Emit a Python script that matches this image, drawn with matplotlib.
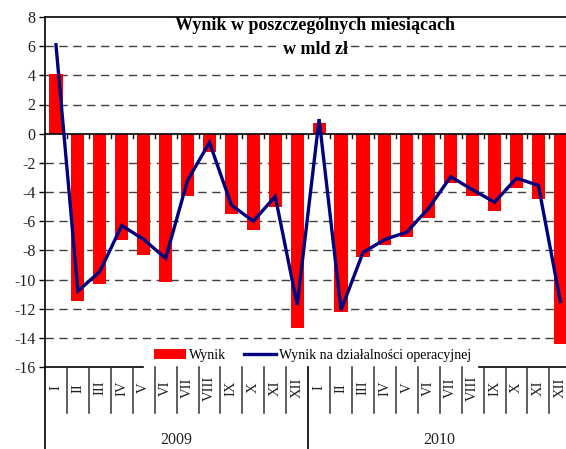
import matplotlib
matplotlib.use("Agg")
import matplotlib.pyplot as plt
import matplotlib.transforms as mtransforms
from matplotlib.patches import Patch
from matplotlib.lines import Line2D
import numpy as np

# months of 2009 and 2010
months = ["I", "II", "III", "IV", "V", "VI", "VII", "VIII", "IX", "X", "XI", "XII"]
years = ["2009", "2010"]

# Wynik (bars), mld zl
wynik_2009 = [4.1, -11.5, -10.3, -7.3, -8.3, -10.15, -4.25, -1.25, -5.5, -6.6, -5.05, -13.35]
wynik_2010 = [0.7, -12.2, -8.45, -7.6, -7.1, -5.8, -3.4, -4.25, -5.3, -3.7, -4.5, -14.4]

# Wynik na dzialalnosci operacyjnej (line), mld zl
oper_2009 = [6.1, -10.8, -9.45, -6.3, -7.25, -8.55, -3.2, -0.6, -4.9, -6.0, -4.3, -11.75]
oper_2010 = [1.0, -12.1, -8.15, -7.25, -6.75, -5.1, -2.95, -3.85, -4.7, -3.05, -3.55, -11.5]

wynik = wynik_2009 + wynik_2010
oper = oper_2009 + oper_2010
labels = months * len(years)
x = np.arange(len(wynik))

plt.rcParams['font.family'] = ['Liberation Serif', 'DejaVu Serif']
plt.rcParams['axes.unicode_minus'] = False

fig = plt.figure(figsize=(5.66, 4.49), dpi=100)
ax = fig.add_axes([45/566, 82/449, 526.3/566, 350/449])

ax.bar(x, wynik, width=0.6, color='#ff0000', zorder=2)
ax.plot(x, oper, color='#000080', lw=2.4, zorder=3, solid_joinstyle='miter')

ax.set_xlim(-0.5, len(x) - 0.5)
ax.set_ylim(-16, 8)
ax.set_yticks(np.arange(-16, 9, 2))
ax.tick_params(axis='y', direction='out', length=4, width=1, labelsize=11.5,
               labelcolor='#222222', pad=3)
ax.set_xticks([])

# dashed gridlines
for v in np.arange(-14, 7, 2):
    if v == 0:
        continue
    ax.axhline(v, color='#404040', lw=1, ls=(0, (6, 4)), zorder=1)
ax.axhline(0, color='black', lw=1.2, zorder=2.5)

for s in ['right', 'bottom']:
    ax.spines[s].set_visible(False)
ax.spines['top'].set_linewidth(1.2)
ax.spines['left'].set_linewidth(1.2)

trans = mtransforms.blended_transform_factory(ax.transData, ax.transAxes)
bounds = np.arange(len(x) + 1) - 0.5

# small ticks on the zero line
for b in bounds[1:-1]:
    ax.plot([b, b], [0, -0.3], color='black', lw=1, zorder=2.5)

# bottom axis line, broken by the legend
ax.plot([-0.5, 3.97], [0, 0], transform=trans, color='black', lw=1.2, clip_on=False)
ax.plot([19.27, len(x) - 0.5], [0, 0], transform=trans, color='black', lw=1.2, clip_on=False)

# category separators below the axis
for i, b in enumerate(bounds):
    if i % 12 == 0:
        ax.plot([b, b], [0, -0.24], transform=trans, color='black', lw=1.2, clip_on=False)
    else:
        ax.plot([b, b], [0, -0.131], transform=trans, color='#333333', lw=1.1, clip_on=False)

# month labels
for xi, lab in zip(x, labels):
    ax.text(xi, -21/350, lab, transform=trans, rotation=90, ha='center', va='center',
            fontsize=10.5, color='#222222')

# year labels
for j, yr in enumerate(years):
    ax.text(j * 12 + 5.5, -73/350, yr, transform=trans, ha='center', va='center',
            fontsize=11.5, color='#222222')

# title (white background hides the gridline under the second line)
ax.text(11.82, 1 - 8/350, "Wynik w poszczególnych miesiącach", transform=trans,
        ha='center', va='center', fontsize=13, fontweight='bold', zorder=4)
ax.text(11.82, 1 - 33/350, "w mld zł", transform=trans,
        ha='center', va='center', fontsize=13, fontweight='bold', zorder=4,
        bbox=dict(facecolor='white', edgecolor='none', pad=1))

handles = [Patch(facecolor='#ff0000', edgecolor='none'),
           Line2D([], [], color='#000080', lw=2.4)]
ax.legend(handles, ["Wynik", "Wynik na działalności operacyjnej"],
          loc='center left', bbox_to_anchor=(109/526.3, 12/350), frameon=False,
          ncol=2, fontsize=10, handlelength=2.3, handletextpad=0.2,
          columnspacing=1.3, borderpad=0, borderaxespad=0)

fig.savefig("out.png", dpi=100)
